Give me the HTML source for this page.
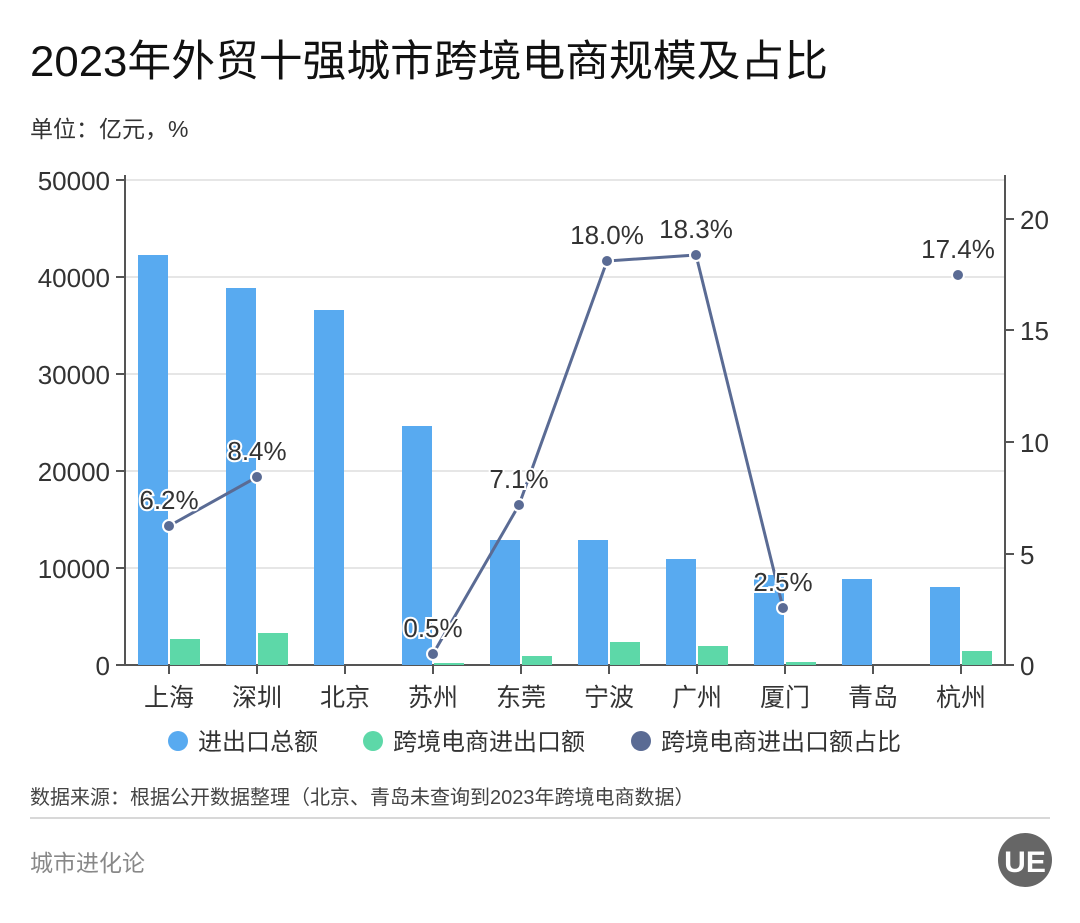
<!DOCTYPE html>
<html><head><meta charset="utf-8"><style>
body{margin:0;background:#fff;}
svg text{font-family:"Liberation Sans","Noto Sans CJK SC",sans-serif;}
</style></head><body>
<svg width="1080" height="918" xmlns="http://www.w3.org/2000/svg">
<rect width="1080" height="918" fill="#fff"/>
<text x="30" y="76" font-size="43" fill="#111" textLength="798" lengthAdjust="spacingAndGlyphs">2023年外贸十强城市跨境电商规模及占比</text>
<text x="30" y="137" font-size="23" fill="#333">单位：亿元，%</text>
<g stroke="#ddd" stroke-width="1.5">
<line x1="125" x2="1005" y1="180" y2="180"/><line x1="125" x2="1005" y1="277" y2="277"/>
<line x1="125" x2="1005" y1="374" y2="374"/><line x1="125" x2="1005" y1="471" y2="471"/>
<line x1="125" x2="1005" y1="568" y2="568"/>
</g>
<g stroke="#555" stroke-width="2">
<line x1="125" x2="125" y1="175" y2="666"/><line x1="1005" x2="1005" y1="175" y2="666"/>
<line x1="124" x2="1006" y1="665" y2="665"/>
<line x1="116" x2="125" y1="180" y2="180"/><line x1="116" x2="125" y1="277" y2="277"/><line x1="116" x2="125" y1="374" y2="374"/><line x1="116" x2="125" y1="471" y2="471"/><line x1="116" x2="125" y1="568" y2="568"/><line x1="116" x2="125" y1="665" y2="665"/>
<line x1="1005" x2="1014" y1="219" y2="219"/><line x1="1005" x2="1014" y1="330" y2="330"/><line x1="1005" x2="1014" y1="442" y2="442"/><line x1="1005" x2="1014" y1="554" y2="554"/><line x1="1005" x2="1014" y1="665" y2="665"/>
<line x1="169" x2="169" y1="665" y2="674"/><line x1="257" x2="257" y1="665" y2="674"/><line x1="345" x2="345" y1="665" y2="674"/><line x1="433" x2="433" y1="665" y2="674"/><line x1="521" x2="521" y1="665" y2="674"/><line x1="609" x2="609" y1="665" y2="674"/><line x1="697" x2="697" y1="665" y2="674"/><line x1="785" x2="785" y1="665" y2="674"/><line x1="873" x2="873" y1="665" y2="674"/><line x1="961" x2="961" y1="665" y2="674"/>
</g>
<g font-size="26" fill="#333" text-anchor="end">
<text x="110" y="190">50000</text><text x="110" y="287">40000</text><text x="110" y="384">30000</text><text x="110" y="481">20000</text><text x="110" y="578">10000</text><text x="110" y="675">0</text>
</g>
<g font-size="26" fill="#333">
<text x="1020" y="229">20</text><text x="1020" y="340">15</text><text x="1020" y="452">10</text><text x="1020" y="564">5</text><text x="1020" y="675">0</text>
</g>
<g fill="#58aaf0">
<rect x="138" y="255" width="30" height="410"/><rect x="226" y="288" width="30" height="377"/><rect x="314" y="310" width="30" height="355"/><rect x="402" y="426" width="30" height="239"/><rect x="490" y="540" width="30" height="125"/><rect x="578" y="540" width="30" height="125"/><rect x="666" y="559" width="30" height="106"/><rect x="754" y="575" width="30" height="90"/><rect x="842" y="579" width="30" height="86"/><rect x="930" y="587" width="30" height="78"/>
</g>
<g fill="#5dd8a8">
<rect x="170" y="639" width="30" height="26"/><rect x="258" y="633" width="30" height="32"/><rect x="434" y="663" width="30" height="2"/><rect x="522" y="656" width="30" height="9"/><rect x="610" y="642" width="30" height="23"/><rect x="698" y="646" width="30" height="19"/><rect x="786" y="662" width="30" height="3"/><rect x="962" y="651" width="30" height="14"/>
</g>
<g fill="none" stroke="#5a6b94" stroke-width="3">
<polyline points="169,526 257,477"/><polyline points="433,654 519,505 607,261 696,255 783,608"/>
</g>
<g fill="#5a6b94" stroke="#fff" stroke-width="2">
<circle cx="169" cy="526" r="6"/><circle cx="257" cy="477" r="6"/><circle cx="433" cy="654" r="6"/><circle cx="519" cy="505" r="6"/><circle cx="607" cy="261" r="6"/><circle cx="696" cy="255" r="6"/><circle cx="783" cy="608" r="6"/><circle cx="958" cy="275" r="6"/>
</g>
<g font-size="26" fill="#333" text-anchor="middle" stroke="#fff" stroke-width="4" paint-order="stroke">
<text x="169" y="509">6.2%</text><text x="257" y="460">8.4%</text><text x="433" y="637">0.5%</text><text x="519" y="488">7.1%</text><text x="607" y="244">18.0%</text><text x="696" y="238">18.3%</text><text x="783" y="591">2.5%</text><text x="958" y="258">17.4%</text>
</g>
<g font-size="25" fill="#333" text-anchor="middle">
<text x="169" y="706">上海</text><text x="257" y="706">深圳</text><text x="345" y="706">北京</text><text x="433" y="706">苏州</text><text x="521" y="706">东莞</text><text x="609" y="706">宁波</text><text x="697" y="706">广州</text><text x="785" y="706">厦门</text><text x="873" y="706">青岛</text><text x="961" y="706">杭州</text>
</g>
<circle cx="178" cy="741" r="10" fill="#58aaf0"/><text x="198" y="750" font-size="24" fill="#333">进出口总额</text>
<circle cx="373" cy="741" r="10" fill="#5dd8a8"/><text x="393" y="750" font-size="24" fill="#333">跨境电商进出口额</text>
<circle cx="641" cy="741" r="10" fill="#5a6b94"/><text x="661" y="750" font-size="24" fill="#333">跨境电商进出口额占比</text>
<text x="30" y="804" font-size="20" fill="#444">数据来源：根据公开数据整理（北京、青岛未查询到2023年跨境电商数据）</text>
<line x1="30" x2="1050" y1="818" y2="818" stroke="#ccc" stroke-width="1.5"/>
<text x="30" y="871" font-size="23" fill="#888">城市进化论</text>
<circle cx="1025" cy="860" r="27" fill="#666"/>
<text x="1025" y="872" font-size="30" fill="#fff" text-anchor="middle" font-weight="bold">UE</text>
</svg>
</body></html>
